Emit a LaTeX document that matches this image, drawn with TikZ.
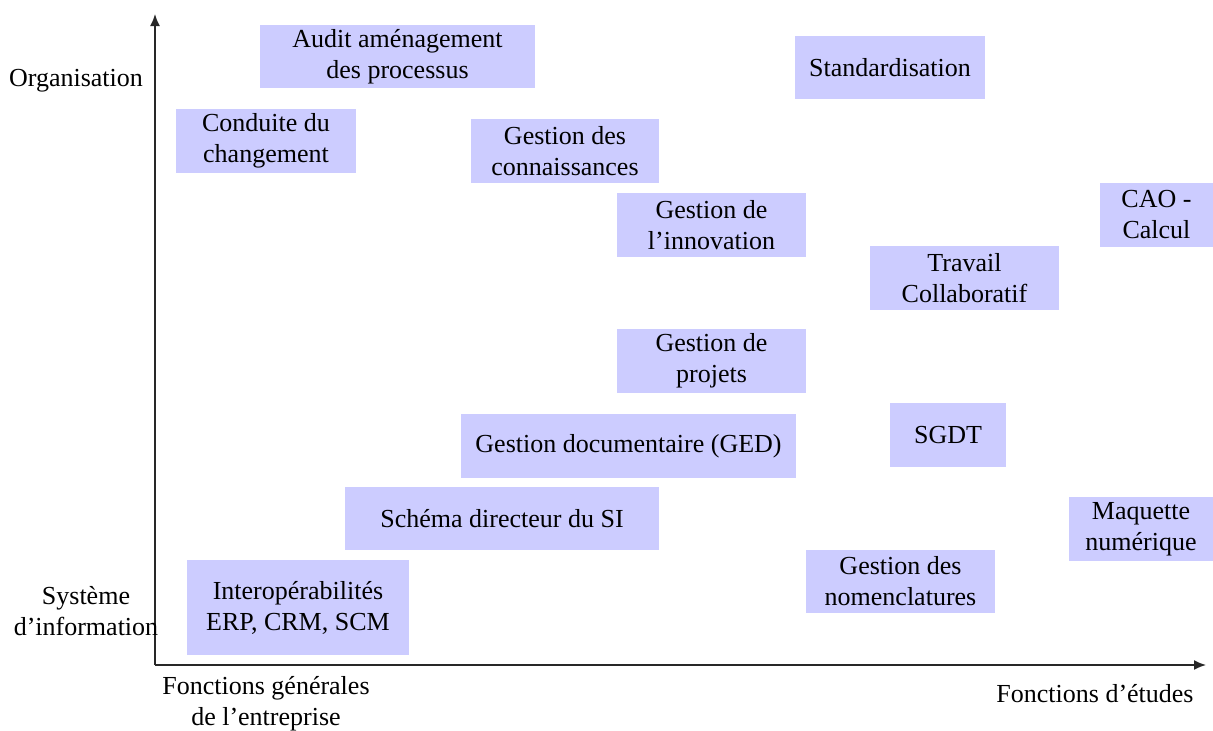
\documentclass[tikz,border=0pt]{standalone}
\usepackage{fontspec}
\setmainfont{Liberation Serif}
\newfontfamily\diagfont{Liberation Serif}
\usepackage{tikz}
\usetikzlibrary{arrows.meta, positioning}

\definecolor{lavbox}{RGB}{204,204,255}
\definecolor{axisgray}{RGB}{40,40,40}

\begin{document}
\begin{tikzpicture}[x=1pt, y=-1pt, >={Latex[length=12pt, width=10pt]},
    font=\diagfont\fontsize{26}{31}\selectfont,
    box/.style={fill=lavbox, align=center, inner sep=0pt, minimum height=63},
    axislabel/.style={align=center, inner sep=0pt}]
  \useasboundingbox (0,0) rectangle (1213,731);

  % --- Axes (explicit coords, pixel grid)
  \coordinate (O)    at (155,665);
  \coordinate (ytop) at (155,14);
  \coordinate (xend) at (1206,665);
  \draw[->, line width=1.6pt, axisgray] (O) -- (ytop);
  \draw[->, line width=1.6pt, axisgray] (O) -- (xend);

  % --- Axis labels
  \node[axislabel] (org)  at (76,81)   {Organisation};
  \node[axislabel] (si)   at (86,611)  {Système\\d’information};
  \node[axislabel] (fgen) at (266,703.5) {Fonctions générales\\de l’entreprise};
  \node[axislabel] (fetu) at (1095,694) {Fonctions d’études};

  % --- Upper part: organisation side
  \node[box, minimum width=275] (audit) at (397.5,56.5) {Audit aménagement\\des processus};
  \node[box, minimum width=190] (stand) at (890,67.5)   {Standardisation};
  \node[box, minimum width=180, minimum height=64] (cond) at (266,141) {Conduite du\\changement};
  \node[box, minimum width=188, minimum height=64] (conn) at (565,151) {Gestion des\\connaissances};
  \node[box, minimum width=189, minimum height=64] (innov) at (711.5,225) {Gestion de\\l’innovation};
  \node[box, minimum width=113, minimum height=64] (cao) at (1156.5,215) {CAO -\\Calcul};
  \node[box, minimum width=189, minimum height=64] (trav) at (964.5,278) {Travail\\Collaboratif};
  \node[box, minimum width=189, minimum height=64] (proj) at (711.5,361) {Gestion de\\projets};

  % --- Lower part: information system side
  \node[box, minimum width=335, minimum height=64] (ged)  at (628.5,446) {Gestion documentaire (GED)};
  \node[box, minimum width=116, minimum height=64] (sgdt) at (948,435)   {SGDT};
  \node[box, minimum width=314] (sdsi) at (502,518.5)  {Schéma directeur du SI};
  \node[box, minimum width=144, minimum height=64] (maq)  at (1141,529) {Maquette\\numérique};
  \node[box, minimum width=189] (nomen) at (900.5,581.5) {Gestion des\\nomenclatures};
  \node[box, minimum width=222, minimum height=95] (interop) at (298,607.5) {Interopérabilités\\ERP, CRM, SCM};
\end{tikzpicture}
\end{document}
